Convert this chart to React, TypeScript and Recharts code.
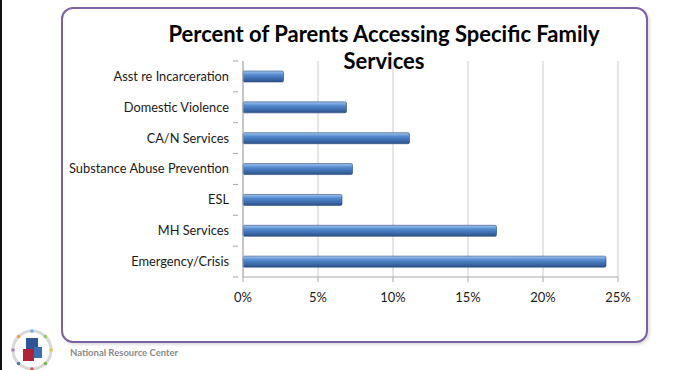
import { Bar, BarChart, CartesianGrid, XAxis, YAxis } from 'recharts';

const categories = [
  'Asst re Incarceration',
  'Domestic Violence',
  'CA/N Services',
  'Substance Abuse Prevention',
  'ESL',
  'MH Services',
  'Emergency/Crisis',
];
const percentValues = [2.7, 6.9, 11.1, 7.3, 6.6, 16.9, 24.2];
const xTicks = [0, 5, 10, 15, 20, 25];

const data = categories.map((name, i) => ({ name, value: percentValues[i] }));

const COLORS = {
  text: '#1a1a1a',
  axis: '#a8a8a8',
  grid: '#cccccc',
  frame: '#7d62a3',
};

const FONT = 'Lato, "Open Sans", sans-serif';

function CategoryTick(props: any) {
  const { x, y, payload, index } = props;
  const half = payload?.offset ?? 0;
  const axisX = x + 9;
  return (
    <g>
      <text x={x} y={y} dy="0.35em" textAnchor="end" fill={COLORS.text} fontSize={12.8} fontFamily={FONT}>
        {payload.value}
      </text>
      <line x1={axisX - 5} x2={axisX} y1={y - half} y2={y - half} stroke={COLORS.axis} />
      {index === categories.length - 1 && (
        <line x1={axisX - 5} x2={axisX} y1={y + half} y2={y + half} stroke={COLORS.axis} />
      )}
    </g>
  );
}

function Logo() {
  const dots = ['#e9c54a', '#7ab648', '#d9534f', '#4a7ebb', '#b07cc6', '#f0a040', '#6cb2d9', '#9bc46a'];
  return (
    <svg width={200} height={44} style={{ position: 'absolute', left: 10, top: 328 }}>
      <circle cx={22} cy={22} r={19} fill="none" stroke="#d8d8d8" strokeWidth={3} />
      {dots.map((c, i) => {
        const a = (i / dots.length) * Math.PI * 2;
        return <circle key={i} cx={22 + Math.cos(a) * 19} cy={22 + Math.sin(a) * 19} r={1.8} fill={c} />;
      })}
      <rect x={16} y={10} width={12} height={12} fill="#2f5597" />
      <rect x={13} y={21} width={11} height={12} fill="#b0223a" />
      <rect x={24} y={19} width={8} height={11} fill="#3a6fb0" />
      <text x={60} y={28} fontSize={9.5} fontWeight={700} fill="#8a8a8a" fontFamily={FONT}>
        National Resource Center
      </text>
    </svg>
  );
}

export default function App() {
  return (
    <div style={{ position: 'absolute', left: 0, top: 0, width: 698, height: 370, background: '#fff', overflow: 'hidden' }}>
      <div style={{ position: 'absolute', left: 0, top: 0, width: 2, height: 370, background: '#111' }} />
      <div
        style={{
          position: 'absolute',
          left: 61,
          top: 7,
          width: 583,
          height: 332,
          border: `2px solid ${COLORS.frame}`,
          borderRadius: 12,
          boxShadow: '2px 2px 3px rgba(0,0,0,0.12)',
        }}
      />
      <div
        style={{
          position: 'absolute',
          left: 164,
          width: 440,
          top: 20,
          textAlign: 'center',
          fontFamily: FONT,
          fontWeight: 700,
          fontSize: 22,
          lineHeight: '27px',
          color: '#000',
        }}
      >
        Percent of Parents Accessing Specific Family
        <br />
        Services
      </div>
      <div style={{ position: 'absolute', left: 0, top: 0 }}>
        <BarChart
          width={698}
          height={370}
          data={data}
          layout="vertical"
          margin={{ top: 61, right: 80, bottom: 0, left: 0 }}
          barCategoryGap="32%"
        >
          <defs>
            <linearGradient id="barFill" x1="0" y1="0" x2="0" y2="1">
              <stop offset="0%" stopColor="#a3c6f0" />
              <stop offset="35%" stopColor="#5389cf" />
              <stop offset="100%" stopColor="#2c528c" />
            </linearGradient>
          </defs>
          <CartesianGrid horizontal={false} stroke={COLORS.grid} />
          <XAxis
            type="number"
            domain={[0, 25]}
            ticks={xTicks}
            interval={0}
            tickFormatter={(v: number) => `${v}%`}
            height={93}
            stroke={COLORS.axis}
            tickSize={5}
            tickMargin={11}
            tick={{ fill: COLORS.text, fontSize: 13, fontFamily: FONT }}
          />
          <YAxis
            type="category"
            dataKey="name"
            width={243}
            stroke={COLORS.axis}
            tickLine={false}
            tickSize={5}
            tickMargin={9}
            interval={0}
            tick={<CategoryTick />}
          />
          <Bar
            dataKey="value"
            fill="url(#barFill)"
            stroke="#2a4a78"
            strokeWidth={0.6}
            barSize={11}
            radius={1.5}
            isAnimationActive={false}
          />
        </BarChart>
      </div>
      <Logo />
    </div>
  );
}
